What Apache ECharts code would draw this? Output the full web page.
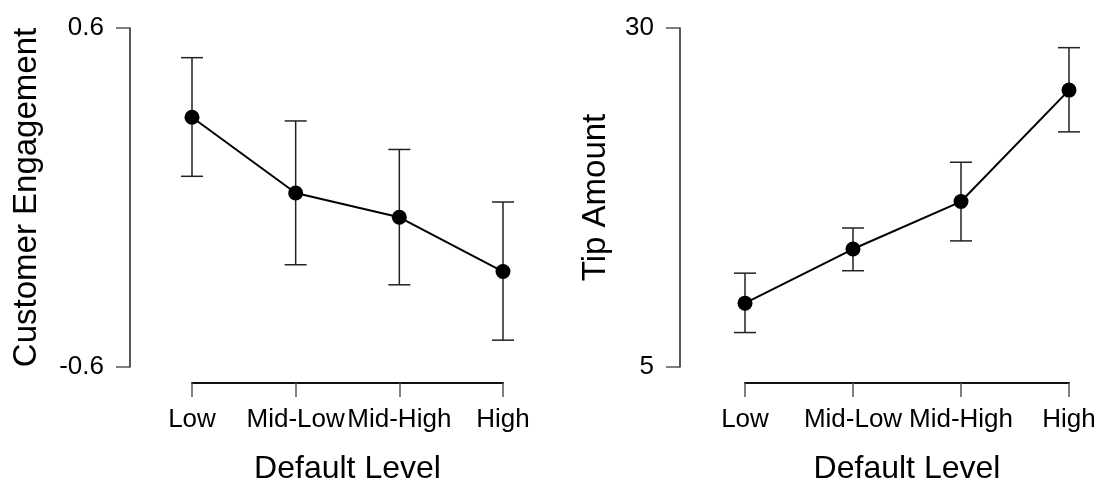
<!DOCTYPE html>
<html>
<head>
<meta charset="utf-8">
<script src="https://cdn.jsdelivr.net/npm/echarts@6/dist/echarts.min.js"></script>
<style>
html,body{margin:0;padding:0;background:#fff;}
#c{width:1103px;height:497px;}
</style>
</head>
<body>
<div id="c"></div>
<script>
const categories = ['Low', 'Mid-Low', 'Mid-High', 'High'];
const engagementMean = [0.284, 0.016, -0.070, -0.262];
const engagementLower = [0.075, -0.238, -0.309, -0.505];
const engagementUpper = [0.495, 0.271, 0.170, -0.016];
const tipMean = [9.71, 13.70, 17.20, 25.42];
const tipLower = [7.54, 12.10, 14.30, 22.34];
const tipUpper = [11.92, 15.25, 20.10, 28.55];
const engagementTicks = [-0.6, 0.6];
const tipTicks = [5, 30];

const FONT = 'Liberation Sans, Arial, sans-serif';
const chart = echarts.init(document.getElementById('c'));

function errData(lo, hi) {
  return lo.map((v, i) => [i, v, hi[i]]);
}
function errRender(params, api) {
  const x = api.value(0);
  const pLo = api.coord([x, api.value(1)]);
  const pHi = api.coord([x, api.value(2)]);
  const hw = 11;
  const st = {stroke: '#222', lineWidth: 1.5, fill: null};
  return {
    type: 'group',
    children: [
      {type: 'line', shape: {x1: pLo[0], y1: pLo[1], x2: pHi[0], y2: pHi[1]}, style: st},
      {type: 'line', shape: {x1: pLo[0] - hw, y1: pLo[1], x2: pLo[0] + hw, y2: pLo[1]}, style: st},
      {type: 'line', shape: {x1: pHi[0] - hw, y1: pHi[1], x2: pHi[0] + hw, y2: pHi[1]}, style: st}
    ]
  };
}
function xAxisCfg(gi) {
  return {
    type: 'category', gridIndex: gi, data: categories, boundaryGap: false,
    position: 'bottom', offset: 16,
    axisLine: {show: true, onZero: false, lineStyle: {color: '#111', width: 2}},
    axisTick: {show: true, inside: false, length: 14, alignWithLabel: true, lineStyle: {color: '#555', width: 1.5}},
    axisLabel: {color: '#000', fontSize: 26, fontFamily: FONT, margin: 24, interval: 0},
    splitLine: {show: false},
    name: 'Default Level', nameLocation: 'middle', nameGap: 70,
    nameTextStyle: {color: '#000', fontSize: 32, fontFamily: FONT}
  };
}
function yAxisCfg(gi, ticks, name, offset, nameGap) {
  return {
    type: 'value', gridIndex: gi, min: ticks[0], max: ticks[1], interval: ticks[1] - ticks[0],
    position: 'left', offset: offset,
    axisLine: {show: true, onZero: false, lineStyle: {color: '#222', width: 1.5}},
    axisTick: {show: true, inside: false, length: 14, lineStyle: {color: '#555', width: 1.5}},
    axisLabel: {color: '#000', fontSize: 26, fontFamily: FONT, margin: 26,
      formatter: v => String(v)},
    splitLine: {show: false},
    name: name, nameLocation: 'middle', nameGap: nameGap, nameRotate: 90,
    nameTextStyle: {color: '#000', fontSize: 33, fontFamily: FONT}
  };
}

chart.setOption({
  animation: false,
  backgroundColor: '#fff',
  grid: [
    {left: 192, width: 311, top: 28, height: 339},
    {left: 745, width: 324, top: 28, height: 339}
  ],
  xAxis: [xAxisCfg(0), xAxisCfg(1)],
  yAxis: [
    yAxisCfg(0, engagementTicks, 'Customer Engagement', 62, 87),
    yAxisCfg(1, tipTicks, 'Tip Amount', 65, 68)
  ],
  series: [
    {type: 'custom', xAxisIndex: 0, yAxisIndex: 0, data: errData(engagementLower, engagementUpper),
     renderItem: errRender, encode: {x: 0, y: [1, 2]}, z: 1, silent: true},
    {type: 'line', xAxisIndex: 0, yAxisIndex: 0, data: engagementMean, symbol: 'circle', symbolSize: 15,
     itemStyle: {color: '#000'}, lineStyle: {color: '#000', width: 2}, z: 3},
    {type: 'custom', xAxisIndex: 1, yAxisIndex: 1, data: errData(tipLower, tipUpper),
     renderItem: errRender, encode: {x: 0, y: [1, 2]}, z: 1, silent: true},
    {type: 'line', xAxisIndex: 1, yAxisIndex: 1, data: tipMean, symbol: 'circle', symbolSize: 15,
     itemStyle: {color: '#000'}, lineStyle: {color: '#000', width: 2}, z: 3}
  ]
});
</script>
</body>
</html>
